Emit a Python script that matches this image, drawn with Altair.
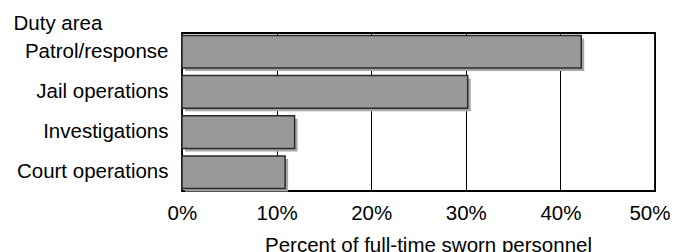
import altair as alt
import pandas as pd

categories = ["Patrol/response", "Jail operations", "Investigations", "Court operations"]
values = [42.2, 30.2, 11.9, 10.9]

df = pd.DataFrame({"area": categories, "pct": values})

FONT = "Liberation Sans"
FS = 20.5

y_enc = alt.Y(
    "area:N",
    sort=categories,
    scale=alt.Scale(paddingInner=0.19, paddingOuter=0.06),
    axis=alt.Axis(
        title="Duty area",
        titleAngle=0,
        titleAlign="left",
        titleBaseline="alphabetic",
        titleX=-169,
        titleY=-4,
        titleFont=FONT,
        titleFontSize=FS,
        titleFontWeight="normal",
        titleColor="black",
        labelFont=FONT,
        labelFontSize=FS,
        labelColor="black",
        labelPadding=14,
        ticks=False,
        domain=False,
        grid=False,
    ),
)

x_enc = alt.X(
    "pct:Q",
    scale=alt.Scale(domain=[0, 50], nice=False),
    axis=alt.Axis(
        title="Percent of full-time sworn personnel",
        values=[0, 10, 20, 30, 40, 50],
        labelExpr="datum.value + '%'",
        titleFont=FONT,
        titleFontSize=FS,
        titleFontWeight="normal",
        titleColor="black",
        titleX=246,
        titleY=60,
        titleAlign="center",
        titleBaseline="alphabetic",
        labelFont=FONT,
        labelFontSize=FS,
        labelColor="black",
        labelBaseline="alphabetic",
        labelPadding=28,
        labelFlush=True,
        labelFlushOffset=15,
        ticks=False,
        domain=False,
        grid=True,
        gridColor="black",
        gridWidth=1,
        gridOpacity=1,
    ),
)

shadow = alt.Chart(df).mark_bar(color="#a6a6a6", xOffset=3, yOffset=3).encode(x=x_enc, y=y_enc)
bars = alt.Chart(df).mark_bar(color="#999999", stroke="#2a2a2a", strokeWidth=1.5).encode(x=x_enc, y=y_enc)

chart = (
    alt.layer(shadow, bars)
    .properties(
        width=473,
        height=158,
        background="white",
        autosize=alt.AutoSizeParams(type="none"),
        padding={"left": 174, "top": 25, "right": 16, "bottom": 70},
    )
    .configure_view(stroke="black", strokeWidth=1.8, strokeOpacity=1)
)

chart.save("out.html", embed_options={"renderer": "svg", "actions": False})
